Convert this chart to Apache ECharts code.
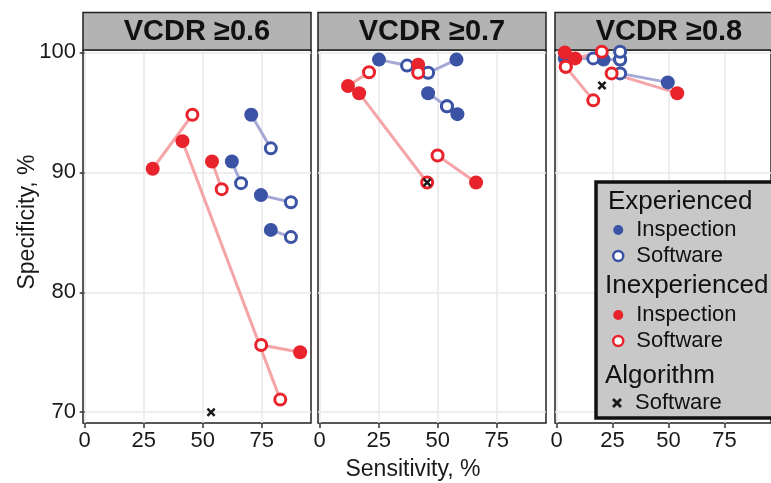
<!DOCTYPE html>
<html>
<head>
<meta charset="utf-8">
<script src="https://cdn.jsdelivr.net/npm/echarts@6/dist/echarts.min.js"></script>
<style>
html, body { margin: 0; padding: 0; background: #fff; }
#chart { width: 771px; height: 483px; }
</style>
</head>
<body>
<div id="chart"></div>
<script>
// facet titles and ticks
const panelTitles = ['VCDR ≥0.6', 'VCDR ≥0.7', 'VCDR ≥0.8']
const xTicks = [0, 25, 50, 75]
const yTicks = [70, 80, 90, 100]

// [sensitivity, specificity]; item i of Inspection is paired with item i of Software
const expInsp = [
    [[70.5, 94.8], [62.3, 90.9], [74.6, 88.1], [78.8, 85.2]],
    [[25.1, 99.4], [57.9, 99.4], [45.9, 96.6], [58.3, 94.85]],
    [[3.7, 99.5], [21.0, 99.4], [49.7, 97.5], [28.4, 99.4]]
]
const expSoft = [
    [[78.8, 92.0], [66.2, 89.1], [87.3, 87.5], [87.3, 84.6]],
    [[37.0, 98.9], [45.9, 98.3], [53.9, 95.5], [53.9, 95.5]],
    [[16.4, 99.5], [28.4, 99.4], [28.4, 98.25], [28.4, 100.05]]
]
const inexInsp = [
    [[28.8, 90.3], [41.4, 92.6], [53.9, 90.9], [91.2, 75.0]],
    [[41.7, 98.97], [12.0, 97.2], [16.7, 96.6], [66.2, 89.15]],
    [[3.7, 100.0], [4.1, 98.8], [8.3, 99.5], [53.9, 96.6]]
]
const inexSoft = [
    [[45.6, 94.8], [82.8, 71.05], [58.0, 88.6], [74.7, 75.6]],
    [[41.7, 98.3], [20.9, 98.35], [45.5, 89.15], [49.9, 91.4]],
    [[4.1, 98.8], [16.4, 96.0], [20.2, 100.05], [24.6, 98.25]]
]
const algoSoft = [
    [[53.5, 70.0]],
    [[45.5, 89.15]],
    [[20.3, 97.25]]
]

const BLUE = '#3a53a4'
const RED = '#e8232b'
const BLUE_LINE = '#a6a9d6'
const RED_LINE = '#f5a4a8'
const FONT = 'Liberation Sans, Arial, sans-serif'
const XMARK = 'path://M2,0 L5,3 L8,0 L10,2 L7,5 L10,8 L8,10 L5,7 L2,10 L0,8 L3,5 L0,2 Z'

const panelLeft = [83, 318, 555]
const panelTop = 50
const panelW = 228
const panelH = 373

let grids = [], xAxes = [], yAxes = [], series = [], graphics = []

panelLeft.forEach(function (left, p) {
    grids.push({
        left: left, top: panelTop, width: panelW, height: panelH,
        show: true, borderColor: '#222', borderWidth: 1.5, backgroundColor: '#fff'
    })
    xAxes.push({
        type: 'value', gridIndex: p, min: -0.7, max: 95.8,
        axisLine: { show: false },
        axisTick: { show: true, length: 5, customValues: xTicks, lineStyle: { color: '#333', width: 1.5 } },
        axisLabel: { customValues: xTicks, fontSize: 22, fontFamily: FONT, color: '#1a1a1a', margin: 7 },
        splitLine: { show: true, lineStyle: { color: '#e8e8e8', width: 1.5 } }
    })
    yAxes.push({
        type: 'value', gridIndex: p, min: 69.1, max: 100.2,
        axisLine: { show: false },
        axisTick: { show: p === 0, length: 5, customValues: yTicks, lineStyle: { color: '#333', width: 1.5 } },
        axisLabel: { show: p === 0, customValues: yTicks, fontSize: 22, fontFamily: FONT, color: '#1a1a1a', margin: 7 },
        splitLine: { show: true, lineStyle: { color: '#e8e8e8', width: 1.5 } }
    })

    // connecting lines between the two readings of one reader
    series.push({
        type: 'lines', coordinateSystem: 'cartesian2d', xAxisIndex: p, yAxisIndex: p,
        silent: true, z: 2,
        lineStyle: { color: BLUE_LINE, width: 3, opacity: 1 },
        data: expInsp[p].map(function (a, i) { return { coords: [a, expSoft[p][i]] } })
    })
    series.push({
        type: 'lines', coordinateSystem: 'cartesian2d', xAxisIndex: p, yAxisIndex: p,
        silent: true, z: 2,
        lineStyle: { color: RED_LINE, width: 3, opacity: 1 },
        data: inexInsp[p].map(function (a, i) { return { coords: [a, inexSoft[p][i]] } })
    })

    const pts = [
        ['Experienced|Inspection', expInsp[p], { color: BLUE, opacity: 1 }, 14],
        ['Experienced|Software', expSoft[p], { color: '#fff', borderColor: BLUE, borderWidth: 3, opacity: 1 }, 11],
        ['Inexperienced|Inspection', inexInsp[p], { color: RED, opacity: 1 }, 14],
        ['Inexperienced|Software', inexSoft[p], { color: '#fff', borderColor: RED, borderWidth: 3, opacity: 1 }, 11]
    ]
    pts.forEach(function (s, k) {
        series.push({
            name: s[0], type: 'scatter', xAxisIndex: p, yAxisIndex: p,
            symbol: 'circle', symbolSize: s[3], itemStyle: s[2],
            clip: false, silent: true, z: 30 + k, data: s[1]
        })
    })
    series.push({
        name: 'Algorithm|Software', type: 'scatter', xAxisIndex: p, yAxisIndex: p,
        symbol: XMARK, symbolSize: 9, itemStyle: { color: '#1a1a1a', opacity: 1 },
        clip: false, silent: true, z: 35, data: algoSoft[p]
    })

    // facet strip
    graphics.push({
        type: 'rect', z: 20,
        shape: { x: left, y: 12.5, width: panelW, height: panelTop - 12.5 },
        style: { fill: '#b3b3b3', stroke: '#222', lineWidth: 1.5 }
    })
    graphics.push({
        type: 'text', z: 21, x: left + panelW / 2, y: 32,
        style: {
            text: panelTitles[p], font: 'bold 29px ' + FONT, fill: '#111',
            align: 'center', verticalAlign: 'middle', textAlign: 'center', textVerticalAlign: 'middle'
        }
    })
})

// axis titles
graphics.push({
    type: 'text', z: 21, x: 413, y: 470,
    style: { text: 'Sensitivity, %', font: '23px ' + FONT, fill: '#1a1a1a',
        align: 'center', verticalAlign: 'middle', textAlign: 'center', textVerticalAlign: 'middle' }
})
graphics.push({
    type: 'text', z: 21, x: 28, y: 222, rotation: Math.PI / 2,
    style: { text: 'Specificity, %', font: '23px ' + FONT, fill: '#1a1a1a',
        align: 'center', verticalAlign: 'middle', textAlign: 'center', textVerticalAlign: 'middle' }
})

// legend box and headings
graphics.push({
    type: 'rect', z: 50,
    shape: { x: 596, y: 182, width: 200, height: 236 },
    style: { fill: '#c8c8c8', stroke: '#111', lineWidth: 3.5 }
})
const headings = [['Experienced', 608, 202], ['Inexperienced', 605, 286], ['Algorithm', 605, 376]]
headings.forEach(function (h) {
    graphics.push({
        type: 'text', z: 51, x: h[1], y: h[2],
        style: { text: h[0], font: '26px ' + FONT, fill: '#111',
            align: 'left', verticalAlign: 'middle', textAlign: 'left', textVerticalAlign: 'middle' }
    })
})

function legendBlock(top, items) {
    return {
        orient: 'vertical', left: 612, top: top, padding: 0, itemGap: 4,
        itemWidth: 14, itemHeight: 10, z: 60, selectedMode: false,
        textStyle: { fontSize: 22, fontFamily: FONT, color: '#111', padding: [0, 0, 0, 6] },
        formatter: function (name) { return name.split('|')[1] },
        data: items
    }
}

const option = {
    animation: false,
    backgroundColor: '#fff',
    grid: grids,
    xAxis: xAxes,
    yAxis: yAxes,
    series: series,
    graphic: { elements: graphics },
    legend: [
        legendBlock(219, [
            { name: 'Experienced|Inspection', icon: 'circle', itemStyle: { color: BLUE, opacity: 1 } },
            { name: 'Experienced|Software', icon: 'circle', itemStyle: { color: '#fff', borderColor: BLUE, borderWidth: 2.5, opacity: 1 } }
        ]),
        legendBlock(304, [
            { name: 'Inexperienced|Inspection', icon: 'circle', itemStyle: { color: RED, opacity: 1 } },
            { name: 'Inexperienced|Software', icon: 'circle', itemStyle: { color: '#fff', borderColor: RED, borderWidth: 2.5, opacity: 1 } }
        ]),
        legendBlock(392, [
            { name: 'Algorithm|Software', icon: XMARK, itemStyle: { color: '#1a1a1a', opacity: 1 } }
        ])
    ]
}

let myChart = echarts.init(document.getElementById('chart'))
myChart.setOption(option)
</script>
</body>
</html>
